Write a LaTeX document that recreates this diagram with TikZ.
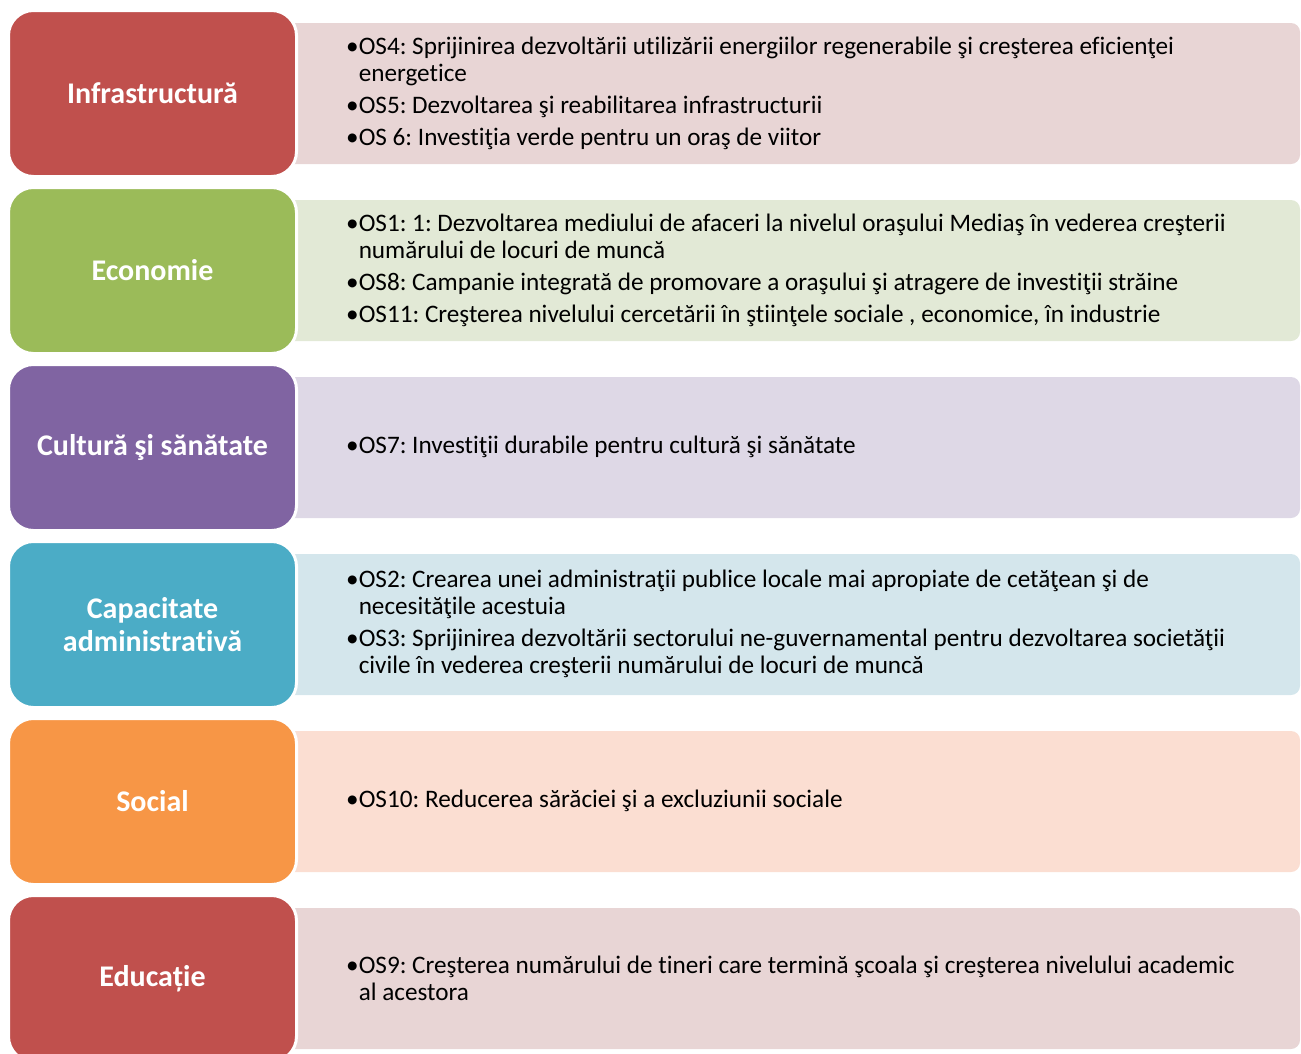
\documentclass[tikz,border=0pt]{standalone}
\usepackage{fontspec}
\setmainfont[Ligatures=NoCommon]{Carlito}
\frenchspacing
\definecolor{cRed}{RGB}{192,80,77}
\definecolor{lRed}{RGB}{232,213,213}
\definecolor{cGreen}{RGB}{155,187,89}
\definecolor{lGreen}{RGB}{226,233,214}
\definecolor{cPurple}{RGB}{128,100,162}
\definecolor{lPurple}{RGB}{222,216,230}
\definecolor{cCyan}{RGB}{75,172,198}
\definecolor{lCyan}{RGB}{212,230,236}
\definecolor{cOrange}{RGB}{247,150,70}
\definecolor{lOrange}{RGB}{251,222,210}
\tikzset{
  catbox/.style={rectangle, rounded corners=25pt, draw=white, line width=3pt,
    minimum width=288pt, minimum height=166pt, inner sep=0pt, align=center,
    text=white, font=\fontsize{30}{33}\selectfont\bfseries},
  detbox/.style={rectangle, rounded corners=9pt, draw=none,
    minimum width=1015pt, minimum height=141pt, inner sep=0pt},
  dettext/.style={anchor=west, align=left, inner sep=0pt,
    font=\fontsize{25.2}{27}\selectfont\frenchspacing}
}
\newcommand{\ind}{\hphantom{•}}
\begin{document}
\begin{tikzpicture}[x=1pt,y=-1pt]
\useasboundingbox (0,0) rectangle (1301,1053);
% right detail boxes
\node[detbox, fill=lRed]    (r1) at (792.5, 93.5) {};
\node[detbox, fill=lGreen]  (r2) at (792.5,270.5) {};
\node[detbox, fill=lPurple] (r3) at (792.5,447.5) {};
\node[detbox, fill=lCyan]   (r4) at (792.5,624.5) {};
\node[detbox, fill=lOrange] (r5) at (792.5,801.5) {};
\node[detbox, fill=lRed]    (r6) at (792.5,978.5) {};
% texts
\node[dettext] (t1) at (346, 93.5) {•OS4: Sprijinirea dezvoltării utilizării energiilor regenerabile şi creşterea eficienţei\\
\ind energetice\\[5pt]
•OS5: Dezvoltarea şi reabilitarea infrastructurii\\[5pt]
•OS 6: Investiţia verde pentru un oraş de viitor};
\node[dettext] (t2) at (346, 270) {•OS1: 1: Dezvoltarea mediului de afaceri la nivelul oraşului Mediaş în vederea creşterii\\
\ind numărului de locuri de muncă\\[5pt]
•OS8: Campanie integrată de promovare a oraşului şi atragere de investiţii străine\\[5pt]
•OS11: Creşterea nivelului cercetării în ştiinţele sociale , economice, în industrie};
\node[dettext] (t3) at (346, 447) {•OS7: Investiţii durabile pentru cultură şi sănătate};
\node[dettext] (t4) at (346, 624) {•OS2: Crearea unei administraţii publice locale mai apropiate de cetăţean şi de\\
\ind necesităţile acestuia\\[5pt]
•OS3: Sprijinirea dezvoltării sectorului ne-guvernamental pentru dezvoltarea societăţii\\
\ind civile în vederea creşterii numărului de locuri de muncă};
\node[dettext] (t5) at (346, 801) {•OS10: Reducerea sărăciei şi a excluziunii sociale};
\node[dettext] (t6) at (346, 978) {•OS9: Creşterea numărului de tineri care termină şcoala şi creşterea nivelului academic\\
\ind al acestora};
% left category boxes
\node[catbox, fill=cRed]    (c1) at (152.5, 93.5) {Infrastructură};
\node[catbox, fill=cGreen]  (c2) at (152.5,270.5) {Economie};
\node[catbox, fill=cPurple] (c3) at (152.5,447.5) {Cultură şi sănătate};
\node[catbox, fill=cCyan]   (c4) at (152.5,624.5) {Capacitate\\administrativă};
\node[catbox, fill=cOrange] (c5) at (152.5,801.5) {Social};
\node[catbox, fill=cRed]    (c6) at (152.5,978.5) {Educație};
\end{tikzpicture}
\end{document}
